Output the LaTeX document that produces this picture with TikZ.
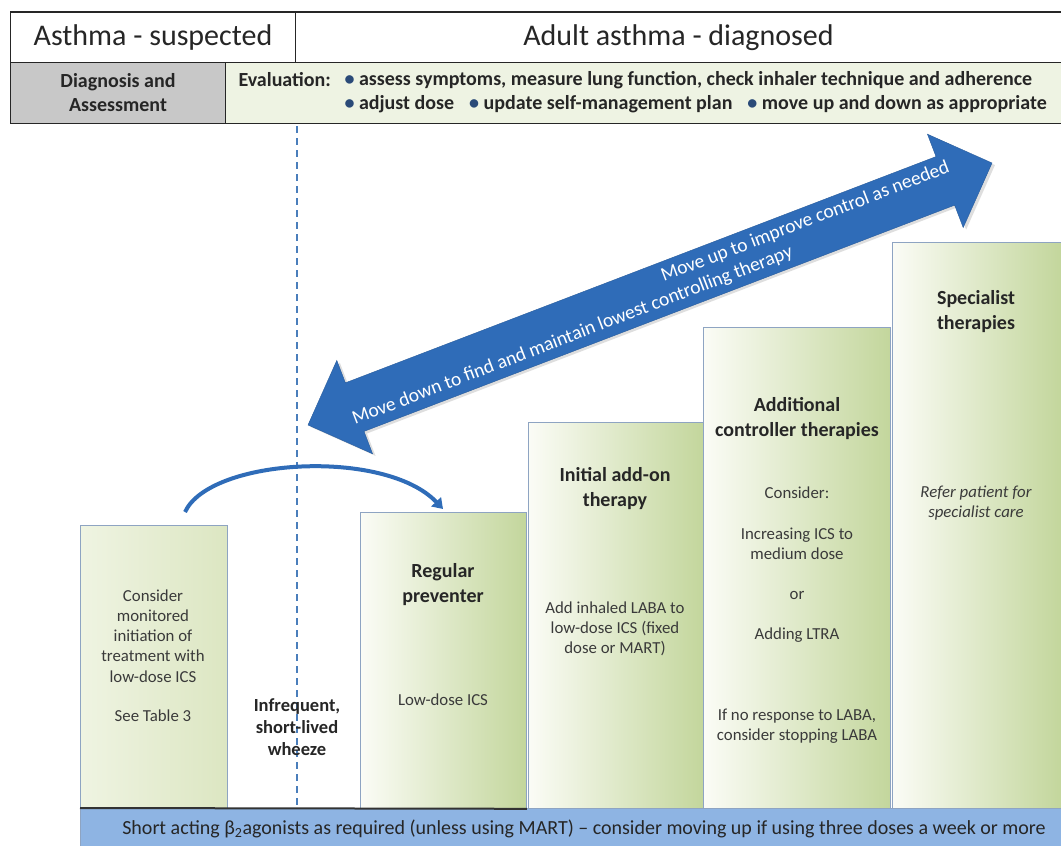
\documentclass[tikz,border=0pt]{standalone}
\usepackage{fontspec}
\setmainfont{Carlito}
\usetikzlibrary{arrows.meta}
\definecolor{txt}{HTML}{262626}
\definecolor{boxtxt}{HTML}{3A3A3A}
\definecolor{greyc}{HTML}{C8C8C8}
\definecolor{paleg}{HTML}{EEF3E3}
\definecolor{gleft}{HTML}{FBFCF6}
\definecolor{gright}{HTML}{C3D69C}
\definecolor{pleft}{HTML}{EFF4E2}
\definecolor{pright}{HTML}{DCE6C2}
\definecolor{bord}{HTML}{8EA4C2}
\definecolor{arrowblue}{HTML}{2F6CB8}
\definecolor{barblue}{HTML}{8EB4E3}
\definecolor{dashblue}{HTML}{4A7EBB}
\definecolor{bulc}{HTML}{2A4A78}
\newcommand{\bl}{\textcolor{bulc}{\textbullet}}
\newcommand{\gap}{\hspace{0.75em}}
\begin{document}
\begin{tikzpicture}[x=1pt,y=-1pt,
  hdr/.style={draw=black!85, line width=1pt, inner sep=0pt, text=txt, font=\fontsize{30}{34}\selectfont},
  hdrtwo/.style={draw=black!85, line width=1pt, inner sep=0pt, text=txt, font=\bfseries\fontsize{20}{24}\selectfont, align=center},
  stepbox/.style={draw=bord, line width=0.8pt, left color=gleft, right color=gright, inner sep=0pt, anchor=north west},
  firstbox/.style={draw=bord, line width=0.8pt, left color=pleft, right color=pright, inner sep=0pt, anchor=north west},
  title/.style={font=\bfseries\fontsize{20}{25}\selectfont, text=txt, align=center},
  body/.style={font=\fontsize{16.8}{20.2}\selectfont, text=boxtxt, align=center},
  evaltext/.style={font=\bfseries\fontsize{20}{24}\selectfont, text=txt, anchor=west},
  dashline/.style={draw=dashblue, line width=1.6pt, dash pattern=on 7pt off 5pt},
  bigarrow/.style={fill=arrowblue, draw=arrowblue!85!black, line width=0.4pt},
  arrowtext/.style={text=white, font=\fontsize{19.5}{22}\selectfont, rotate=20.96, inner sep=0pt},
  curvearrow/.style={draw=arrowblue, line width=4pt, -{Triangle[width=13pt,length=10pt]}},
]
\useasboundingbox (0,0) rectangle (1061,846);
\fill[white] (0,0) rectangle (1061,846);

% header
\node[hdr, anchor=north west, minimum width=285pt, minimum height=50pt] (susp) at (10,12) {Asthma - suspected};
\node[hdr, anchor=north west, minimum width=766pt, minimum height=50pt] (diag) at (295,12) {Adult asthma - diagnosed};
\node[hdrtwo, fill=greyc, anchor=north west, minimum width=215pt, minimum height=61pt] (dna) at (10,62) {Diagnosis and\\Assessment};
\node[hdrtwo, fill=paleg, anchor=north west, minimum width=836pt, minimum height=61pt] (evalcell) at (225,62) {};
\draw[line width=2.2pt, black!85] (susp.north west) -- (diag.north east);
\node[evaltext] (evallab) at (235,80) {Evaluation:};
\node[evaltext] (evalone) at (341,80) {\bl\ assess symptoms, measure lung function, check inhaler technique and adherence};
\node[evaltext] (evaltwo) at (341,104) {\bl\ adjust dose\gap\bl\ update self-management plan\gap\bl\ move up and down as appropriate};

% dashed divider
\coordinate (dtop) at (297,126);
\coordinate (dbot) at (297,808);
\draw[dashline] (dtop) -- (dbot);

% step boxes
\node[firstbox, minimum width=147pt, minimum height=283pt] (b1) at (80,525) {};
\node[stepbox, minimum width=166pt, minimum height=296pt] (b2) at (360,512) {};
\node[stepbox, minimum width=175pt, minimum height=386pt] (b3) at (528,422) {};
\node[stepbox, minimum width=187pt, minimum height=481pt] (b4) at (703,327) {};
\node[stepbox, minimum width=169pt, minimum height=566pt] (b5) at (892,242) {};

% bottom bar
\node[fill=barblue, draw=bord, line width=0.6pt, anchor=north west, minimum width=981pt, minimum height=38pt, inner sep=0pt] (bar) at (80,808) {};
\draw[line width=2pt, black!80] (bar.north west) -- (b2.south east);
\node[font=\fontsize{20}{22}\selectfont, text=txt] (bartext) at (584,829) {Short acting β\textsubscript{2}agonists as required (unless using MART) – consider moving up if using three doses a week or more};

% box texts
\node[body] (t1) at (153,636) {Consider\\monitored\\initiation of\\treatment with\\low-dose ICS};
\node[body] (t1b) at (153,716) {See Table 3};
\node[title, font=\bfseries\fontsize{18.5}{22}\selectfont] (wheeze) at (297,727) {Infrequent,\\short-lived\\wheeze};
\node[title] (t2) at (443,585) {Regular\\preventer};
\node[body] (t2b) at (443,700) {Low-dose ICS};
\node[title] (t3) at (615,489) {Initial add-on\\therapy};
\node[body] (t3b) at (615,629) {Add inhaled LABA to\\low-dose ICS (fixed\\dose or MART)};
\node[title] (t4) at (797,419) {Additional\\controller therapies};
\node[body] (t4a) at (797,493) {Consider:};
\node[body] (t4b) at (797,544) {Increasing ICS to\\medium dose};
\node[body] (t4c) at (797,595) {or};
\node[body] (t4d) at (797,635) {Adding LTRA};
\node[body] (t4e) at (797,726) {If no response to LABA,\\consider stopping LABA};
\node[title] (t5) at (976,312) {Specialist\\therapies};
\node[body, font=\itshape\fontsize{16.8}{20.2}\selectfont] (t5b) at (976,503) {Refer patient for\\specialist care};

% big double arrow
\coordinate (atail) at (308,425);
\coordinate (ahead) at (992,163);
\begin{scope}[shift={(atail)}, rotate=20.96]
  \fill[black!25, opacity=0.5, xshift=2pt, yshift=-3pt] (0,0) -- (50,50) -- (50,26) -- (682.5,26) -- (682.5,50) -- (732.5,0) -- (682.5,-50) -- (682.5,-26) -- (50,-26) -- (50,-50) -- cycle;
  \path[bigarrow] (0,0) -- (50,50) -- (50,26) -- (682.5,26) -- (682.5,50) -- (732.5,0) -- (682.5,-50) -- (682.5,-26) -- (50,-26) -- (50,-50) -- cycle;
  \node[arrowtext] (uptext) at (537,-11.5) {Move up to improve control as needed};
  \node[arrowtext] (downtext) at (279,11.5) {Move down to find and maintain lowest controlling therapy};
\end{scope}

% curved arrow
\coordinate (cstart) at (185,512);
\coordinate (cend) at (443,509);
\draw[curvearrow] (cstart) .. controls (210,458) and (385,448) .. (cend);
\end{tikzpicture}
\end{document}
